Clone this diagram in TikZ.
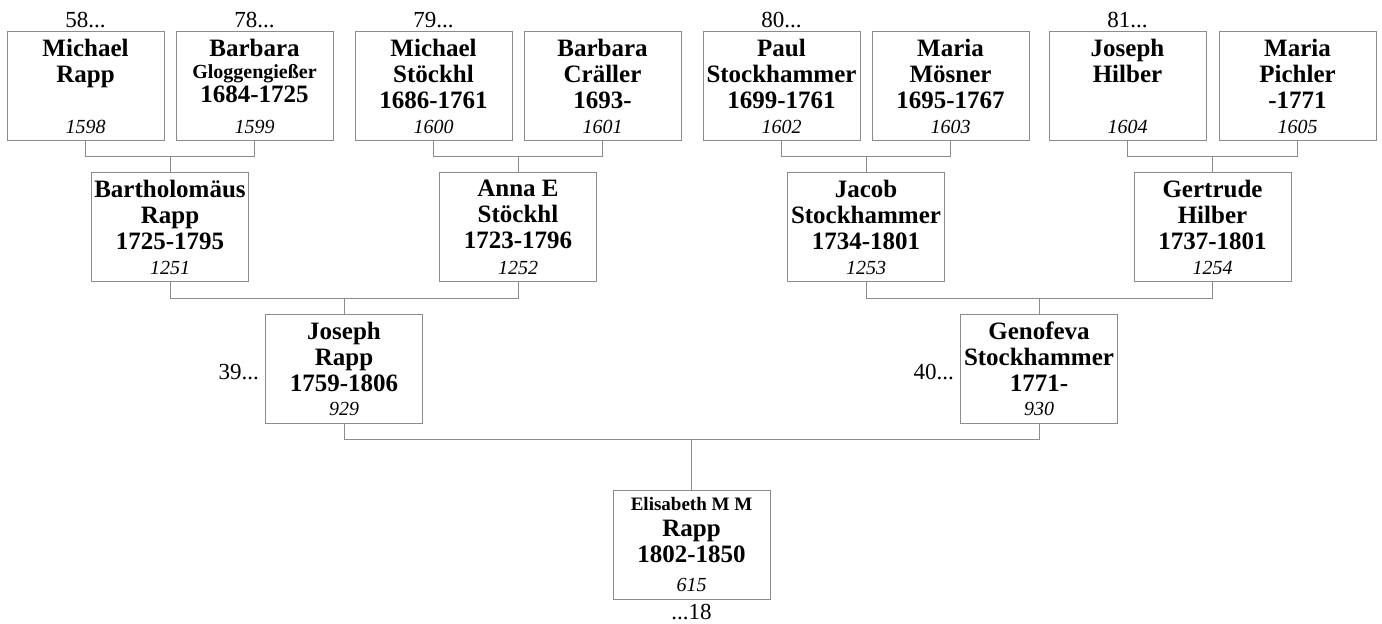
\documentclass[tikz,border=0pt]{standalone}
\usepackage{fontspec}
\setmainfont{Liberation Serif}
\usetikzlibrary{calc}

\begin{document}
\begin{tikzpicture}[x=1pt,y=-1pt,
  pbox/.style={draw=black!45,line width=1pt,minimum width=157pt,minimum height=109pt,inner sep=0pt},
  pname/.style={anchor=north,align=center,inner sep=0pt,yshift=-8pt,font=\fontsize{25}{26}\selectfont\bfseries},
  pnum/.style={anchor=base,inner sep=0pt,yshift=8pt,font=\fontsize{20}{24}\selectfont\itshape},
  gen/.style={anchor=base,inner sep=0pt,font=\fontsize{23}{26}\selectfont},
  link/.style={draw=black!45,line width=1pt}]
\useasboundingbox (0,0) rectangle (1382,624);

% great-grandparents
\node[pbox] (MRapp) at (85.5,86) {}; \node[pname] (MRapp-n) at (MRapp.north) {Michael\\Rapp}; \node[pnum] (MRapp-d) at (MRapp.south) {1598};
\node[pbox] (BGlogg) at (254.5,86) {}; \node[pname] (BGlogg-n) at (BGlogg.north) {Barbara\\[-4pt]{\fontsize{20}{22}\selectfont Gloggengießer}\\[-2pt]1684-1725}; \node[pnum] (BGlogg-d) at (BGlogg.south) {1599};
\node[pbox] (MStoe) at (433.5,86) {}; \node[pname] (MStoe-n) at (MStoe.north) {Michael\\Stöckhl\\1686-1761}; \node[pnum] (MStoe-d) at (MStoe.south) {1600};
\node[pbox] (BCrae) at (602.5,86) {}; \node[pname] (BCrae-n) at (BCrae.north) {Barbara\\Cräller\\1693-}; \node[pnum] (BCrae-d) at (BCrae.south) {1601};
\node[pbox] (PStock) at (781.5,86) {}; \node[pname] (PStock-n) at (PStock.north) {Paul\\Stockhammer\\1699-1761}; \node[pnum] (PStock-d) at (PStock.south) {1602};
\node[pbox] (MMoes) at (950.5,86) {}; \node[pname] (MMoes-n) at (MMoes.north) {Maria\\Mösner\\1695-1767}; \node[pnum] (MMoes-d) at (MMoes.south) {1603};
\node[pbox] (JHilb) at (1127.5,86) {}; \node[pname] (JHilb-n) at (JHilb.north) {Joseph\\Hilber}; \node[pnum] (JHilb-d) at (JHilb.south) {1604};
\node[pbox] (MPich) at (1297.5,86) {}; \node[pname] (MPich-n) at (MPich.north) {Maria\\Pichler\\-1771}; \node[pnum] (MPich-d) at (MPich.south) {1605};

% grandparents
\node[pbox] (BRapp) at (170,227) {}; \node[pname] (BRapp-n) at (BRapp.north) {Bartholomäus\\Rapp\\1725-1795}; \node[pnum] (BRapp-d) at (BRapp.south) {1251};
\node[pbox] (AStoe) at (518,227) {}; \node[pname] (AStoe-n) at (AStoe.north) {Anna E\\Stöckhl\\1723-1796}; \node[pnum] (AStoe-d) at (AStoe.south) {1252};
\node[pbox] (JStock) at (866,227) {}; \node[pname] (JStock-n) at (JStock.north) {Jacob\\Stockhammer\\1734-1801}; \node[pnum] (JStock-d) at (JStock.south) {1253};
\node[pbox] (GHilb) at (1212.5,227) {}; \node[pname] (GHilb-n) at (GHilb.north) {Gertrude\\Hilber\\1737-1801}; \node[pnum] (GHilb-d) at (GHilb.south) {1254};

% parents and child
\node[pbox] (JRapp) at (344,368.5) {}; \node[pname] (JRapp-n) at (JRapp.north) {Joseph\\Rapp\\1759-1806}; \node[pnum] (JRapp-d) at (JRapp.south) {929};
\node[pbox] (GStock) at (1039,368.5) {}; \node[pname] (GStock-n) at (GStock.north) {Genofeva\\Stockhammer\\1771-}; \node[pnum] (GStock-d) at (GStock.south) {930};
\node[pbox] (ERapp) at (691.5,544.5) {}; \node[pname] (ERapp-n) at (ERapp.north) {{\fontsize{19}{22}\selectfont Elisabeth M M}\\Rapp\\1802-1850}; \node[pnum] (ERapp-d) at (ERapp.south) {615};

% links
\draw[link] (MRapp.south) -- ++(0,15) coordinate (c1) -| (BGlogg.south); \draw[link] (BRapp.north) -- (BRapp.north |- c1);
\draw[link] (MStoe.south) -- ++(0,15) coordinate (c2) -| (BCrae.south); \draw[link] (AStoe.north) -- (AStoe.north |- c2);
\draw[link] (PStock.south) -- ++(0,15) coordinate (c3) -| (MMoes.south); \draw[link] (JStock.north) -- (JStock.north |- c3);
\draw[link] (JHilb.south) -- ++(0,15) coordinate (c4) -| (MPich.south); \draw[link] (GHilb.north) -- (GHilb.north |- c4);
\draw[link] (BRapp.south) -- ++(0,16) coordinate (c5) -| (AStoe.south); \draw[link] (JRapp.north) -- (JRapp.north |- c5);
\draw[link] (JStock.south) -- ++(0,16) coordinate (c6) -| (GHilb.south); \draw[link] (GStock.north) -- (GStock.north |- c6);
\draw[link] (JRapp.south) -- ++(0,16) coordinate (c7) -| (GStock.south); \draw[link] (ERapp.north) -- (ERapp.north |- c7);

% generation numbers
\node[gen] (n58) at ([yshift=4pt]MRapp.north) {58...};
\node[gen] (n78) at ([yshift=4pt]BGlogg.north) {78...};
\node[gen] (n79) at ([yshift=4pt]MStoe.north) {79...};
\node[gen] (n80) at ([yshift=4pt]PStock.north) {80...};
\node[gen] (n81) at ([yshift=4pt]JHilb.north) {81...};
\node[gen,anchor=base east] (n39) at ([xshift=-6pt,yshift=-11pt]JRapp.west) {39...};
\node[gen,anchor=base east] (n40) at ([xshift=-6pt,yshift=-11pt]GStock.west) {40...};
\node[gen] (n18) at ([yshift=-20pt]ERapp.south) {...18};
\end{tikzpicture}
\end{document}
